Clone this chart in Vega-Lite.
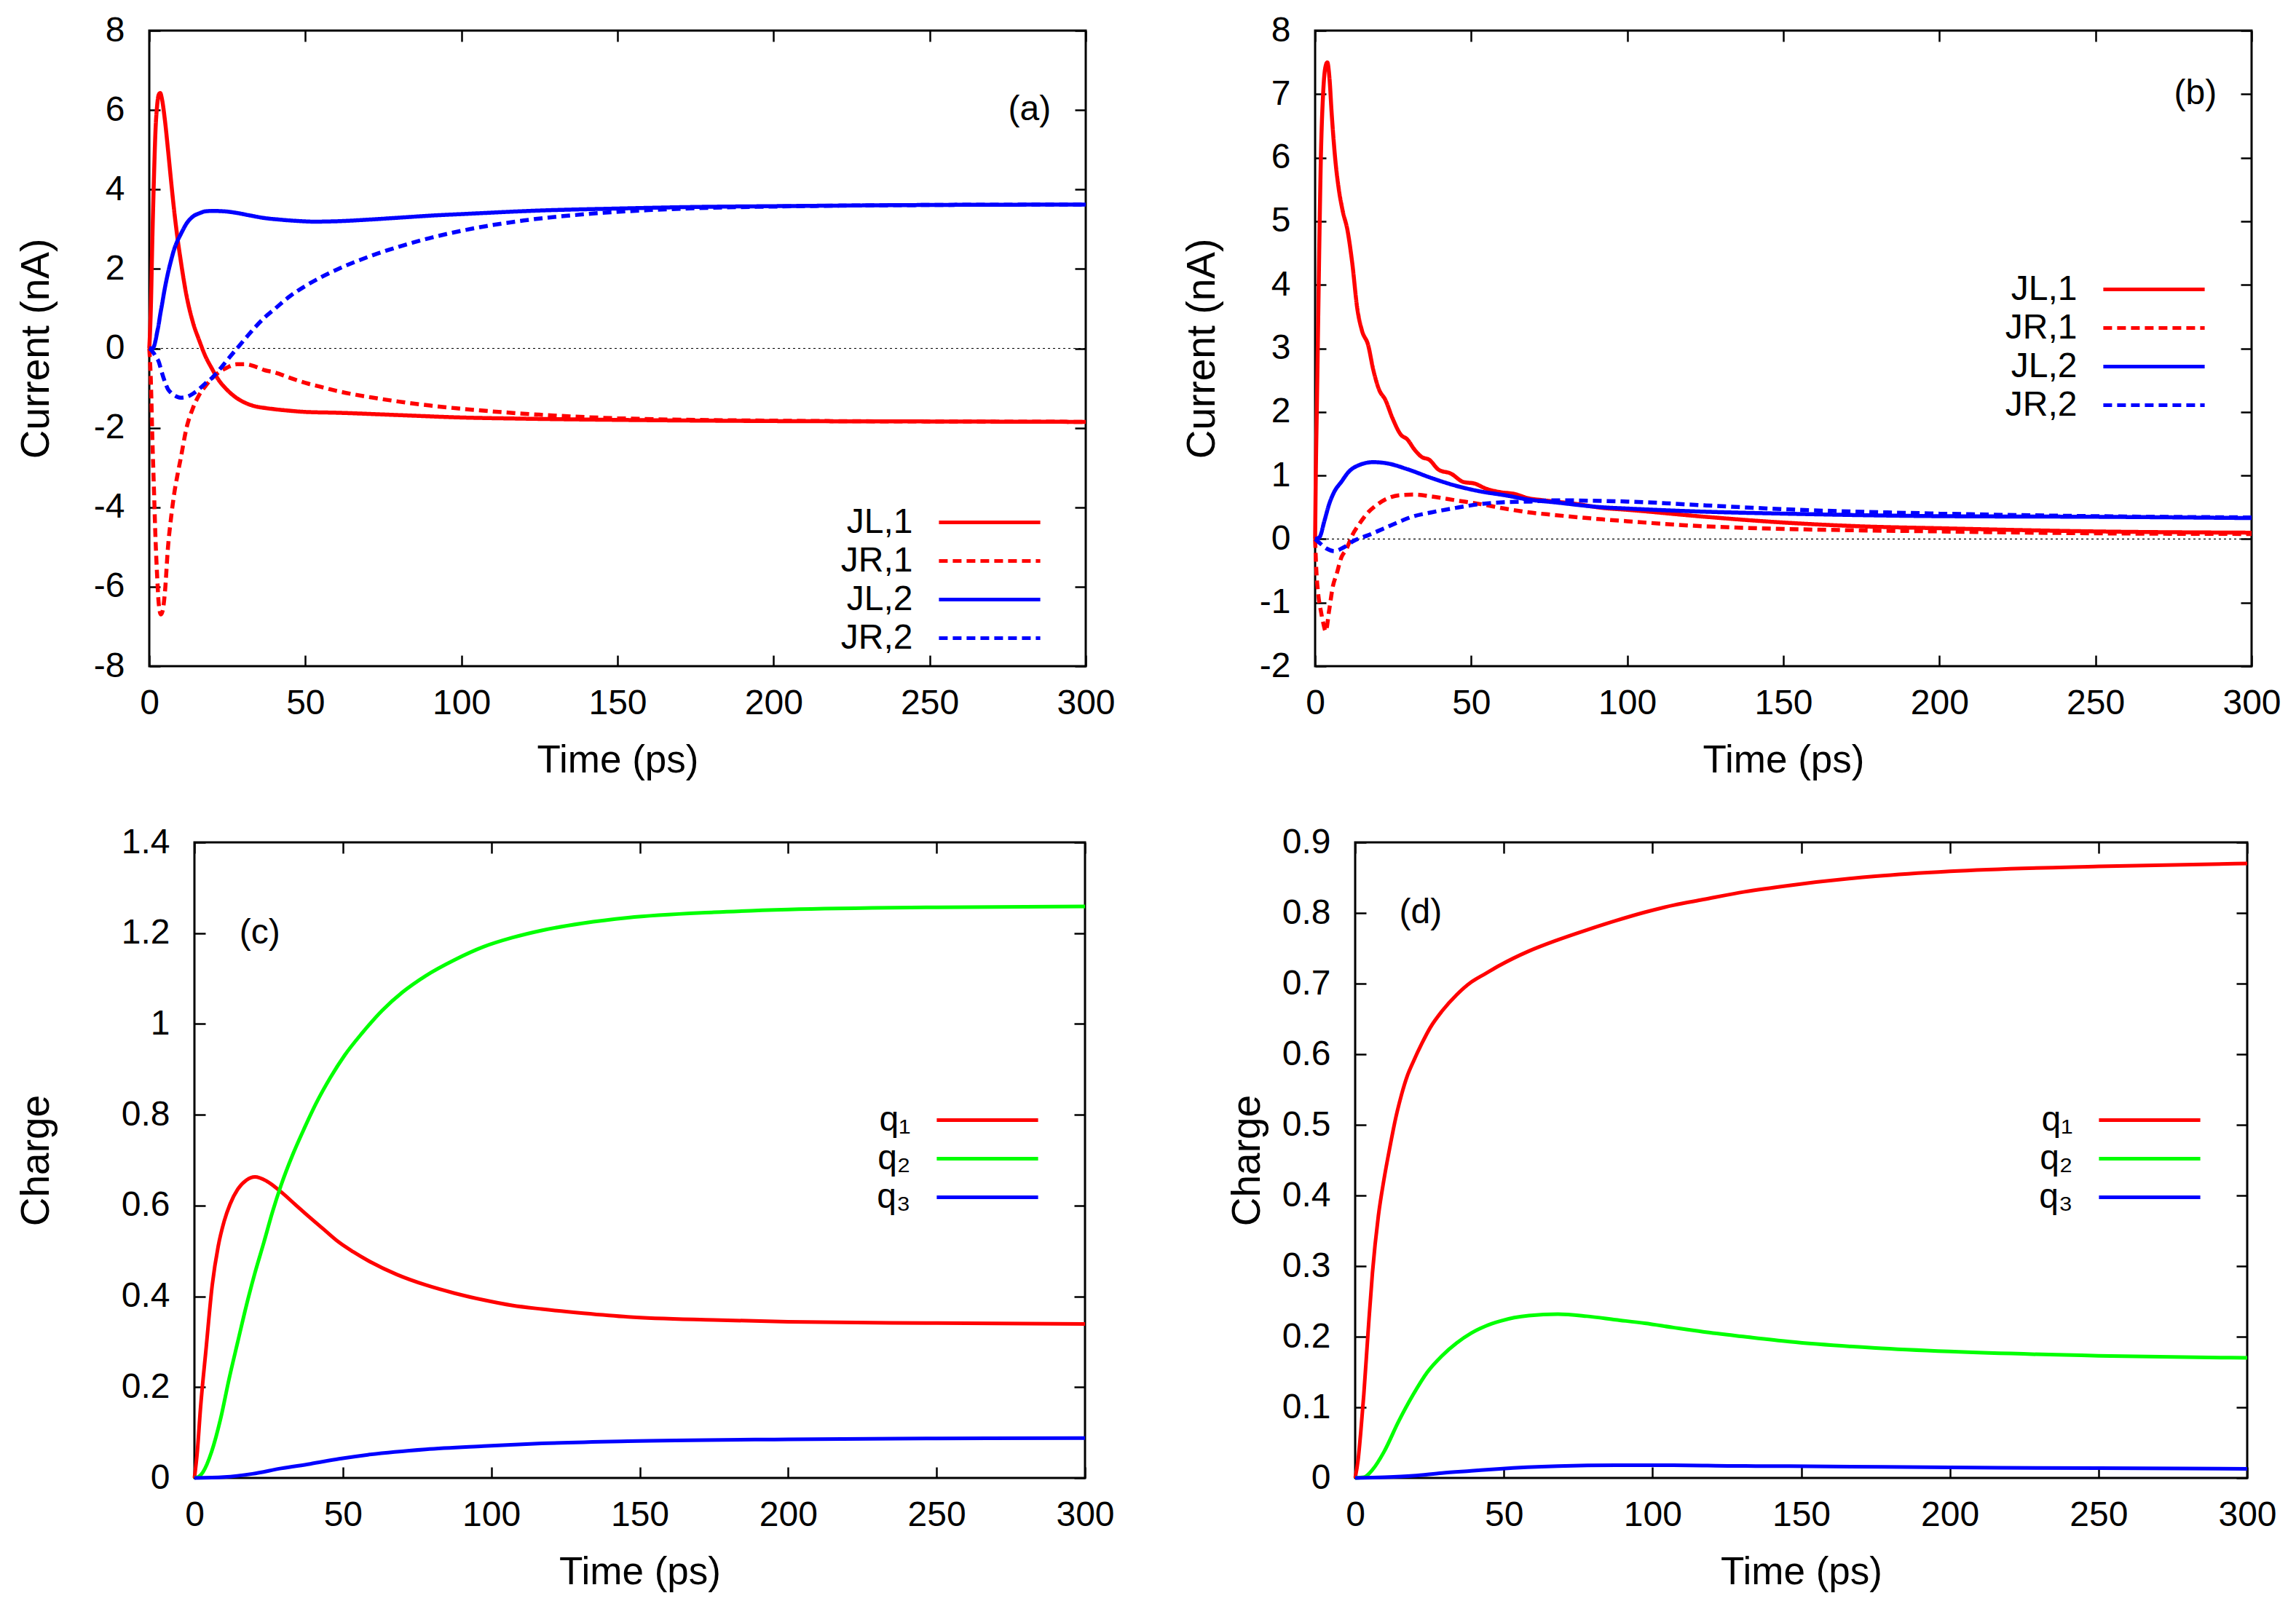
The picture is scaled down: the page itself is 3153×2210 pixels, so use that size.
{
  "$schema": "https://vega.github.io/schema/vega-lite/v6.json",
  "background": "white",
  "padding": {"left": 19, "top": 16, "right": 0, "bottom": 0},
  "config": {
    "font": "Liberation Sans",
    "view": {"stroke": "black", "strokeWidth": 3},
    "axis": {
      "labelFont": "Liberation Sans", "labelFontSize": 48, "labelColor": "black",
      "titleFont": "Liberation Sans", "titleFontSize": 53, "titleFontWeight": "normal", "titleColor": "black",
      "domain": false, "grid": false, "tickColor": "black", "tickWidth": 2.5, "tickSize": -15,
      "labelExpr": "toString(datum.value)", "labelFlush": false, "labelOverlap": false
    },
    "axisBottom": {"labelPadding": 42, "titlePadding": 28},
    "axisLeft": {"labelPadding": 49, "titlePadding": 50, "titleFontSize": 55},
    "axisTop": {"labels": false},
    "axisRight": {"labels": false},
    "legend": {
      "orient": "none", "labelFont": "Liberation Sans", "labelFontSize": 48, "labelColor": "black",
      "symbolType": "M-2.9,0H2.9", "symbolSize": 2304, "symbolStrokeWidth": 5, "symbolOffset": 43.5,
      "labelAlign": "right", "labelOffset": -132, "rowPadding": 2, "padding": 0, "labelLimit": 400
    }
  },
  "datasets": {
    "a": [
      {"t":0,"v":0,"s":"JL,1"},{"t":0.5,"v":1.0,"s":"JL,1"},{"t":1,"v":2.8,"s":"JL,1"},{"t":1.5,"v":4.3,"s":"JL,1"},{"t":2,"v":5.5,"s":"JL,1"},{"t":2.5,"v":6.1,"s":"JL,1"},{"t":3,"v":6.38,"s":"JL,1"},{"t":3.5,"v":6.43,"s":"JL,1"},{"t":4,"v":6.3,"s":"JL,1"},{"t":5,"v":5.75,"s":"JL,1"},{"t":6,"v":5.0,"s":"JL,1"},{"t":7,"v":4.2,"s":"JL,1"},{"t":8,"v":3.45,"s":"JL,1"},{"t":9,"v":2.8,"s":"JL,1"},{"t":10,"v":2.25,"s":"JL,1"},{"t":12,"v":1.3,"s":"JL,1"},{"t":14,"v":0.65,"s":"JL,1"},{"t":16,"v":0.2,"s":"JL,1"},{"t":18,"v":-0.2,"s":"JL,1"},{"t":20,"v":-0.5,"s":"JL,1"},{"t":22,"v":-0.77,"s":"JL,1"},{"t":25,"v":-1.05,"s":"JL,1"},{"t":28,"v":-1.25,"s":"JL,1"},{"t":31,"v":-1.38,"s":"JL,1"},{"t":34,"v":-1.46,"s":"JL,1"},{"t":37,"v":-1.5,"s":"JL,1"},{"t":40,"v":-1.53,"s":"JL,1"},{"t":45,"v":-1.57,"s":"JL,1"},{"t":50,"v":-1.6,"s":"JL,1"},{"t":60,"v":-1.62,"s":"JL,1"},{"t":80,"v":-1.68,"s":"JL,1"},{"t":100,"v":-1.74,"s":"JL,1"},{"t":120,"v":-1.77,"s":"JL,1"},{"t":150,"v":-1.8,"s":"JL,1"},{"t":200,"v":-1.83,"s":"JL,1"},{"t":250,"v":-1.84,"s":"JL,1"},{"t":300,"v":-1.85,"s":"JL,1"},
      {"t":0,"v":0,"s":"JR,1"},{"t":0.5,"v":-0.8,"s":"JR,1"},{"t":1,"v":-2.3,"s":"JR,1"},{"t":1.5,"v":-3.55,"s":"JR,1"},{"t":2,"v":-4.8,"s":"JR,1"},{"t":2.5,"v":-5.7,"s":"JR,1"},{"t":3,"v":-6.4,"s":"JR,1"},{"t":3.7,"v":-6.7,"s":"JR,1"},{"t":4.3,"v":-6.6,"s":"JR,1"},{"t":5,"v":-6.15,"s":"JR,1"},{"t":6,"v":-5.0,"s":"JR,1"},{"t":7,"v":-4.25,"s":"JR,1"},{"t":8,"v":-3.65,"s":"JR,1"},{"t":9,"v":-3.2,"s":"JR,1"},{"t":10,"v":-2.8,"s":"JR,1"},{"t":12,"v":-1.98,"s":"JR,1"},{"t":14,"v":-1.5,"s":"JR,1"},{"t":16,"v":-1.17,"s":"JR,1"},{"t":18,"v":-0.95,"s":"JR,1"},{"t":20,"v":-0.76,"s":"JR,1"},{"t":22,"v":-0.62,"s":"JR,1"},{"t":25,"v":-0.48,"s":"JR,1"},{"t":28,"v":-0.4,"s":"JR,1"},{"t":31,"v":-0.4,"s":"JR,1"},{"t":34,"v":-0.46,"s":"JR,1"},{"t":37,"v":-0.55,"s":"JR,1"},{"t":40,"v":-0.6,"s":"JR,1"},{"t":45,"v":-0.74,"s":"JR,1"},{"t":50,"v":-0.87,"s":"JR,1"},{"t":55,"v":-0.97,"s":"JR,1"},{"t":60,"v":-1.07,"s":"JR,1"},{"t":70,"v":-1.22,"s":"JR,1"},{"t":80,"v":-1.34,"s":"JR,1"},{"t":90,"v":-1.44,"s":"JR,1"},{"t":100,"v":-1.52,"s":"JR,1"},{"t":125,"v":-1.67,"s":"JR,1"},{"t":150,"v":-1.76,"s":"JR,1"},{"t":200,"v":-1.82,"s":"JR,1"},{"t":250,"v":-1.84,"s":"JR,1"},{"t":300,"v":-1.85,"s":"JR,1"},
      {"t":0,"v":0,"s":"JL,2"},{"t":1,"v":0.0,"s":"JL,2"},{"t":1.5,"v":0.05,"s":"JL,2"},{"t":2,"v":0.2,"s":"JL,2"},{"t":2.5,"v":0.4,"s":"JL,2"},{"t":3,"v":0.6,"s":"JL,2"},{"t":3.5,"v":0.85,"s":"JL,2"},{"t":4,"v":1.07,"s":"JL,2"},{"t":5,"v":1.52,"s":"JL,2"},{"t":6,"v":1.9,"s":"JL,2"},{"t":7,"v":2.22,"s":"JL,2"},{"t":8,"v":2.5,"s":"JL,2"},{"t":9,"v":2.7,"s":"JL,2"},{"t":10,"v":2.86,"s":"JL,2"},{"t":12,"v":3.15,"s":"JL,2"},{"t":14,"v":3.32,"s":"JL,2"},{"t":16,"v":3.4,"s":"JL,2"},{"t":18,"v":3.45,"s":"JL,2"},{"t":20,"v":3.46,"s":"JL,2"},{"t":24,"v":3.45,"s":"JL,2"},{"t":28,"v":3.41,"s":"JL,2"},{"t":32,"v":3.35,"s":"JL,2"},{"t":37,"v":3.28,"s":"JL,2"},{"t":42,"v":3.24,"s":"JL,2"},{"t":47,"v":3.21,"s":"JL,2"},{"t":53,"v":3.19,"s":"JL,2"},{"t":60,"v":3.2,"s":"JL,2"},{"t":70,"v":3.24,"s":"JL,2"},{"t":80,"v":3.29,"s":"JL,2"},{"t":92,"v":3.35,"s":"JL,2"},{"t":100,"v":3.38,"s":"JL,2"},{"t":125,"v":3.47,"s":"JL,2"},{"t":150,"v":3.52,"s":"JL,2"},{"t":175,"v":3.56,"s":"JL,2"},{"t":200,"v":3.58,"s":"JL,2"},{"t":250,"v":3.61,"s":"JL,2"},{"t":300,"v":3.62,"s":"JL,2"},
      {"t":0,"v":0,"s":"JR,2"},{"t":0.5,"v":-0.03,"s":"JR,2"},{"t":1,"v":-0.08,"s":"JR,2"},{"t":1.5,"v":-0.13,"s":"JR,2"},{"t":2,"v":-0.2,"s":"JR,2"},{"t":2.5,"v":-0.26,"s":"JR,2"},{"t":3,"v":-0.33,"s":"JR,2"},{"t":3.5,"v":-0.46,"s":"JR,2"},{"t":4,"v":-0.6,"s":"JR,2"},{"t":5,"v":-0.84,"s":"JR,2"},{"t":6,"v":-1.03,"s":"JR,2"},{"t":7,"v":-1.12,"s":"JR,2"},{"t":8,"v":-1.18,"s":"JR,2"},{"t":9,"v":-1.22,"s":"JR,2"},{"t":10,"v":-1.24,"s":"JR,2"},{"t":12,"v":-1.22,"s":"JR,2"},{"t":14,"v":-1.14,"s":"JR,2"},{"t":16,"v":-1.02,"s":"JR,2"},{"t":18,"v":-0.88,"s":"JR,2"},{"t":20,"v":-0.75,"s":"JR,2"},{"t":22,"v":-0.58,"s":"JR,2"},{"t":25,"v":-0.29,"s":"JR,2"},{"t":28,"v":-0.01,"s":"JR,2"},{"t":31,"v":0.27,"s":"JR,2"},{"t":34,"v":0.54,"s":"JR,2"},{"t":37,"v":0.78,"s":"JR,2"},{"t":40,"v":0.98,"s":"JR,2"},{"t":45,"v":1.31,"s":"JR,2"},{"t":50,"v":1.57,"s":"JR,2"},{"t":55,"v":1.79,"s":"JR,2"},{"t":60,"v":1.98,"s":"JR,2"},{"t":70,"v":2.3,"s":"JR,2"},{"t":80,"v":2.56,"s":"JR,2"},{"t":90,"v":2.78,"s":"JR,2"},{"t":100,"v":2.96,"s":"JR,2"},{"t":120,"v":3.22,"s":"JR,2"},{"t":140,"v":3.38,"s":"JR,2"},{"t":160,"v":3.48,"s":"JR,2"},{"t":180,"v":3.54,"s":"JR,2"},{"t":200,"v":3.57,"s":"JR,2"},{"t":250,"v":3.61,"s":"JR,2"},{"t":300,"v":3.62,"s":"JR,2"}
    ],
    "b": [
      {"t":0,"v":0,"s":"JL,1"},{"t":0.2,"v":0.93,"s":"JL,1"},{"t":0.6,"v":2.2,"s":"JL,1"},{"t":1,"v":3.5,"s":"JL,1"},{"t":1.4,"v":4.8,"s":"JL,1"},{"t":1.8,"v":5.9,"s":"JL,1"},{"t":2.6,"v":7.04,"s":"JL,1"},{"t":3.2,"v":7.4,"s":"JL,1"},{"t":3.9,"v":7.5,"s":"JL,1"},{"t":4.6,"v":7.25,"s":"JL,1"},{"t":5.3,"v":6.7,"s":"JL,1"},{"t":6.5,"v":5.95,"s":"JL,1"},{"t":7.6,"v":5.5,"s":"JL,1"},{"t":8.8,"v":5.17,"s":"JL,1"},{"t":10.4,"v":4.85,"s":"JL,1"},{"t":11.9,"v":4.34,"s":"JL,1"},{"t":13.5,"v":3.63,"s":"JL,1"},{"t":15,"v":3.28,"s":"JL,1"},{"t":17,"v":3.05,"s":"JL,1"},{"t":18.6,"v":2.67,"s":"JL,1"},{"t":20.5,"v":2.35,"s":"JL,1"},{"t":22.5,"v":2.19,"s":"JL,1"},{"t":24.8,"v":1.9,"s":"JL,1"},{"t":27.5,"v":1.64,"s":"JL,1"},{"t":29.5,"v":1.57,"s":"JL,1"},{"t":31.8,"v":1.41,"s":"JL,1"},{"t":34.2,"v":1.29,"s":"JL,1"},{"t":36.5,"v":1.25,"s":"JL,1"},{"t":39.6,"v":1.09,"s":"JL,1"},{"t":43.5,"v":1.03,"s":"JL,1"},{"t":47.4,"v":0.9,"s":"JL,1"},{"t":51.3,"v":0.87,"s":"JL,1"},{"t":54.4,"v":0.8,"s":"JL,1"},{"t":59.1,"v":0.74,"s":"JL,1"},{"t":63.8,"v":0.71,"s":"JL,1"},{"t":68.5,"v":0.64,"s":"JL,1"},{"t":73.2,"v":0.61,"s":"JL,1"},{"t":84,"v":0.55,"s":"JL,1"},{"t":92,"v":0.49,"s":"JL,1"},{"t":100,"v":0.46,"s":"JL,1"},{"t":125,"v":0.35,"s":"JL,1"},{"t":150,"v":0.26,"s":"JL,1"},{"t":175,"v":0.2,"s":"JL,1"},{"t":200,"v":0.17,"s":"JL,1"},{"t":250,"v":0.12,"s":"JL,1"},{"t":300,"v":0.1,"s":"JL,1"},
      {"t":0,"v":0,"s":"JR,1"},{"t":0.3,"v":-0.4,"s":"JR,1"},{"t":1,"v":-0.87,"s":"JR,1"},{"t":1.8,"v":-1.12,"s":"JR,1"},{"t":2.6,"v":-1.32,"s":"JR,1"},{"t":3.4,"v":-1.45,"s":"JR,1"},{"t":4.5,"v":-1.12,"s":"JR,1"},{"t":5.7,"v":-0.74,"s":"JR,1"},{"t":6.9,"v":-0.55,"s":"JR,1"},{"t":8.4,"v":-0.29,"s":"JR,1"},{"t":10,"v":-0.16,"s":"JR,1"},{"t":11.9,"v":0.06,"s":"JR,1"},{"t":13.9,"v":0.22,"s":"JR,1"},{"t":17,"v":0.42,"s":"JR,1"},{"t":20.1,"v":0.55,"s":"JR,1"},{"t":23.2,"v":0.64,"s":"JR,1"},{"t":27.1,"v":0.69,"s":"JR,1"},{"t":31.8,"v":0.7,"s":"JR,1"},{"t":37.3,"v":0.67,"s":"JR,1"},{"t":45,"v":0.61,"s":"JR,1"},{"t":52.9,"v":0.55,"s":"JR,1"},{"t":60.7,"v":0.48,"s":"JR,1"},{"t":68.5,"v":0.42,"s":"JR,1"},{"t":76.3,"v":0.38,"s":"JR,1"},{"t":92,"v":0.31,"s":"JR,1"},{"t":100,"v":0.28,"s":"JR,1"},{"t":125,"v":0.2,"s":"JR,1"},{"t":150,"v":0.16,"s":"JR,1"},{"t":200,"v":0.12,"s":"JR,1"},{"t":250,"v":0.09,"s":"JR,1"},{"t":300,"v":0.08,"s":"JR,1"},
      {"t":0,"v":0,"s":"JL,2"},{"t":1.4,"v":0.03,"s":"JL,2"},{"t":3,"v":0.29,"s":"JL,2"},{"t":4.5,"v":0.55,"s":"JL,2"},{"t":6.1,"v":0.74,"s":"JL,2"},{"t":8.4,"v":0.9,"s":"JL,2"},{"t":10.8,"v":1.06,"s":"JL,2"},{"t":13.9,"v":1.16,"s":"JL,2"},{"t":18.6,"v":1.21,"s":"JL,2"},{"t":23.2,"v":1.19,"s":"JL,2"},{"t":29.5,"v":1.1,"s":"JL,2"},{"t":37.3,"v":0.96,"s":"JL,2"},{"t":45,"v":0.84,"s":"JL,2"},{"t":52.9,"v":0.75,"s":"JL,2"},{"t":60.7,"v":0.69,"s":"JL,2"},{"t":68.5,"v":0.62,"s":"JL,2"},{"t":76.3,"v":0.58,"s":"JL,2"},{"t":92,"v":0.5,"s":"JL,2"},{"t":100,"v":0.48,"s":"JL,2"},{"t":125,"v":0.43,"s":"JL,2"},{"t":150,"v":0.4,"s":"JL,2"},{"t":200,"v":0.36,"s":"JL,2"},{"t":250,"v":0.35,"s":"JL,2"},{"t":300,"v":0.33,"s":"JL,2"},
      {"t":0,"v":0,"s":"JR,2"},{"t":1.4,"v":-0.06,"s":"JR,2"},{"t":3.7,"v":-0.15,"s":"JR,2"},{"t":6.1,"v":-0.19,"s":"JR,2"},{"t":9.2,"v":-0.13,"s":"JR,2"},{"t":12.3,"v":-0.03,"s":"JR,2"},{"t":17,"v":0.06,"s":"JR,2"},{"t":21.7,"v":0.16,"s":"JR,2"},{"t":26.4,"v":0.26,"s":"JR,2"},{"t":31,"v":0.35,"s":"JR,2"},{"t":37.3,"v":0.42,"s":"JR,2"},{"t":45,"v":0.49,"s":"JR,2"},{"t":52.9,"v":0.55,"s":"JR,2"},{"t":60.7,"v":0.58,"s":"JR,2"},{"t":68.5,"v":0.59,"s":"JR,2"},{"t":76.3,"v":0.61,"s":"JR,2"},{"t":92,"v":0.6,"s":"JR,2"},{"t":100,"v":0.59,"s":"JR,2"},{"t":125,"v":0.53,"s":"JR,2"},{"t":150,"v":0.47,"s":"JR,2"},{"t":200,"v":0.4,"s":"JR,2"},{"t":250,"v":0.36,"s":"JR,2"},{"t":300,"v":0.34,"s":"JR,2"}
    ],
    "c": [
      {"t":0,"v":0,"s":"q₁"},{"t":1,"v":0.06,"s":"q₁"},{"t":2,"v":0.15,"s":"q₁"},{"t":4,"v":0.29,"s":"q₁"},{"t":6,"v":0.425,"s":"q₁"},{"t":8,"v":0.51,"s":"q₁"},{"t":10,"v":0.565,"s":"q₁"},{"t":12,"v":0.603,"s":"q₁"},{"t":14.6,"v":0.636,"s":"q₁"},{"t":17.5,"v":0.656,"s":"q₁"},{"t":20.4,"v":0.663,"s":"q₁"},{"t":24.3,"v":0.654,"s":"q₁"},{"t":29.2,"v":0.63,"s":"q₁"},{"t":34,"v":0.602,"s":"q₁"},{"t":39,"v":0.573,"s":"q₁"},{"t":44,"v":0.545,"s":"q₁"},{"t":48.7,"v":0.519,"s":"q₁"},{"t":53.5,"v":0.498,"s":"q₁"},{"t":58.4,"v":0.479,"s":"q₁"},{"t":68.2,"v":0.448,"s":"q₁"},{"t":77.9,"v":0.425,"s":"q₁"},{"t":87.6,"v":0.407,"s":"q₁"},{"t":97.4,"v":0.392,"s":"q₁"},{"t":107,"v":0.38,"s":"q₁"},{"t":117,"v":0.372,"s":"q₁"},{"t":131,"v":0.363,"s":"q₁"},{"t":146,"v":0.355,"s":"q₁"},{"t":175,"v":0.348,"s":"q₁"},{"t":200,"v":0.344,"s":"q₁"},{"t":250,"v":0.341,"s":"q₁"},{"t":300,"v":0.339,"s":"q₁"},
      {"t":0,"v":0,"s":"q₂"},{"t":1.5,"v":0.003,"s":"q₂"},{"t":2.9,"v":0.013,"s":"q₂"},{"t":5.8,"v":0.058,"s":"q₂"},{"t":8.8,"v":0.13,"s":"q₂"},{"t":11.7,"v":0.219,"s":"q₂"},{"t":14.6,"v":0.3,"s":"q₂"},{"t":17.5,"v":0.38,"s":"q₂"},{"t":20.4,"v":0.452,"s":"q₂"},{"t":23.4,"v":0.519,"s":"q₂"},{"t":26.3,"v":0.586,"s":"q₂"},{"t":29.2,"v":0.645,"s":"q₂"},{"t":33.1,"v":0.712,"s":"q₂"},{"t":37,"v":0.77,"s":"q₂"},{"t":40.9,"v":0.824,"s":"q₂"},{"t":45.8,"v":0.882,"s":"q₂"},{"t":50.6,"v":0.931,"s":"q₂"},{"t":56.5,"v":0.98,"s":"q₂"},{"t":63.3,"v":1.03,"s":"q₂"},{"t":70.1,"v":1.07,"s":"q₂"},{"t":77.9,"v":1.106,"s":"q₂"},{"t":87.6,"v":1.141,"s":"q₂"},{"t":97.4,"v":1.17,"s":"q₂"},{"t":107,"v":1.19,"s":"q₂"},{"t":117,"v":1.206,"s":"q₂"},{"t":131,"v":1.222,"s":"q₂"},{"t":146,"v":1.234,"s":"q₂"},{"t":175,"v":1.246,"s":"q₂"},{"t":200,"v":1.252,"s":"q₂"},{"t":250,"v":1.257,"s":"q₂"},{"t":300,"v":1.259,"s":"q₂"},
      {"t":0,"v":0,"s":"q₃"},{"t":10,"v":0.002,"s":"q₃"},{"t":19.5,"v":0.009,"s":"q₃"},{"t":29.2,"v":0.021,"s":"q₃"},{"t":39,"v":0.031,"s":"q₃"},{"t":48.7,"v":0.042,"s":"q₃"},{"t":58.4,"v":0.051,"s":"q₃"},{"t":77.9,"v":0.063,"s":"q₃"},{"t":97.4,"v":0.07,"s":"q₃"},{"t":117,"v":0.076,"s":"q₃"},{"t":146,"v":0.081,"s":"q₃"},{"t":200,"v":0.085,"s":"q₃"},{"t":250,"v":0.087,"s":"q₃"},{"t":300,"v":0.088,"s":"q₃"}
    ],
    "d": [
      {"t":0,"v":0,"s":"q₁"},{"t":1,"v":0.026,"s":"q₁"},{"t":1.9,"v":0.066,"s":"q₁"},{"t":2.9,"v":0.118,"s":"q₁"},{"t":4.4,"v":0.21,"s":"q₁"},{"t":5.8,"v":0.29,"s":"q₁"},{"t":7.8,"v":0.371,"s":"q₁"},{"t":9.7,"v":0.423,"s":"q₁"},{"t":11.7,"v":0.469,"s":"q₁"},{"t":13.6,"v":0.509,"s":"q₁"},{"t":15.6,"v":0.543,"s":"q₁"},{"t":17.5,"v":0.569,"s":"q₁"},{"t":19.5,"v":0.589,"s":"q₁"},{"t":22.4,"v":0.615,"s":"q₁"},{"t":25.3,"v":0.638,"s":"q₁"},{"t":29.2,"v":0.661,"s":"q₁"},{"t":34.1,"v":0.684,"s":"q₁"},{"t":39,"v":0.702,"s":"q₁"},{"t":43.8,"v":0.714,"s":"q₁"},{"t":48.7,"v":0.726,"s":"q₁"},{"t":58.4,"v":0.746,"s":"q₁"},{"t":68.2,"v":0.762,"s":"q₁"},{"t":77.9,"v":0.776,"s":"q₁"},{"t":87.6,"v":0.789,"s":"q₁"},{"t":97.4,"v":0.801,"s":"q₁"},{"t":107,"v":0.811,"s":"q₁"},{"t":117,"v":0.819,"s":"q₁"},{"t":131,"v":0.83,"s":"q₁"},{"t":146,"v":0.839,"s":"q₁"},{"t":175,"v":0.852,"s":"q₁"},{"t":200,"v":0.859,"s":"q₁"},{"t":250,"v":0.866,"s":"q₁"},{"t":300,"v":0.87,"s":"q₁"},
      {"t":0,"v":0,"s":"q₂"},{"t":2.9,"v":0.001,"s":"q₂"},{"t":5.8,"v":0.0115,"s":"q₂"},{"t":9.7,"v":0.037,"s":"q₂"},{"t":14.6,"v":0.08,"s":"q₂"},{"t":19.5,"v":0.118,"s":"q₂"},{"t":24.3,"v":0.15,"s":"q₂"},{"t":29.2,"v":0.173,"s":"q₂"},{"t":34.1,"v":0.191,"s":"q₂"},{"t":39,"v":0.205,"s":"q₂"},{"t":43.8,"v":0.215,"s":"q₂"},{"t":48.7,"v":0.222,"s":"q₂"},{"t":53.5,"v":0.227,"s":"q₂"},{"t":58.4,"v":0.23,"s":"q₂"},{"t":68.2,"v":0.232,"s":"q₂"},{"t":77.9,"v":0.229,"s":"q₂"},{"t":87.6,"v":0.224,"s":"q₂"},{"t":97.4,"v":0.219,"s":"q₂"},{"t":107,"v":0.213,"s":"q₂"},{"t":117,"v":0.207,"s":"q₂"},{"t":131,"v":0.2,"s":"q₂"},{"t":146,"v":0.193,"s":"q₂"},{"t":175,"v":0.184,"s":"q₂"},{"t":200,"v":0.179,"s":"q₂"},{"t":250,"v":0.173,"s":"q₂"},{"t":300,"v":0.17,"s":"q₂"},
      {"t":0,"v":0,"s":"q₃"},{"t":10,"v":0.001,"s":"q₃"},{"t":19.5,"v":0.003,"s":"q₃"},{"t":29.2,"v":0.007,"s":"q₃"},{"t":39,"v":0.01,"s":"q₃"},{"t":48.7,"v":0.013,"s":"q₃"},{"t":68.2,"v":0.0167,"s":"q₃"},{"t":87.6,"v":0.018,"s":"q₃"},{"t":107,"v":0.018,"s":"q₃"},{"t":127,"v":0.017,"s":"q₃"},{"t":146,"v":0.0167,"s":"q₃"},{"t":200,"v":0.015,"s":"q₃"},{"t":250,"v":0.0138,"s":"q₃"},{"t":300,"v":0.013,"s":"q₃"}
    ]
  },
  "columns": 4,
  "align": "none",
  "spacing": {"row": 58, "column": 0},
  "resolve": {"scale": {"color": "independent", "strokeDash": "independent", "x": "independent", "y": "independent"}},
  "concat": [
    {"width": 1, "height": 873, "view": {"stroke": null}, "mark": {"type": "point", "opacity": 0}, "encoding": {}},
    {
      "width": 1286, "height": 873,
      "layer": [
        {"data": {"values": [{"y0": 0}]},
         "mark": {"type": "rule", "color": "black", "strokeWidth": 1.2, "strokeDash": [3, 4]},
         "encoding": {"y": {"field": "y0", "type": "quantitative", "axis": null}}},
        {"data": {"name": "a"},
         "mark": {"type": "line", "strokeWidth": 5.5, "interpolate": "monotone"},
         "encoding": {
           "x": {"field": "t", "type": "quantitative", "scale": {"domain": [0, 300], "nice": false}, "axis": {"orient": "bottom", "values": [0, 50, 100, 150, 200, 250, 300], "title": "Time (ps)"}},
           "y": {"field": "v", "type": "quantitative", "scale": {"domain": [-8, 8], "nice": false}, "axis": {"orient": "left", "values": [-8, -6, -4, -2, 0, 2, 4, 6, 8], "title": "Current (nA)"}},
           "color": {"field": "s", "type": "nominal", "scale": {"domain": ["JL,1", "JR,1", "JL,2", "JR,2"], "range": ["#ff0000", "#ff0000", "#0000ff", "#0000ff"]}, "legend": {"title": null, "legendX": 1084, "legendY": 649}},
           "strokeDash": {"field": "s", "type": "nominal", "scale": {"domain": ["JL,1", "JR,1", "JL,2", "JR,2"], "range": [[1, 0], [12, 7], [1, 0], [12, 7]]}, "legend": {"title": null, "legendX": 1084, "legendY": 649}}
         }},
        {"data": {"values": [{"t": 282, "v": 6, "label": "(a)"}]},
         "mark": {"type": "text", "font": "Liberation Sans", "fontSize": 48, "fontWeight": "normal", "color": "black"},
         "encoding": {"x": {"field": "t", "type": "quantitative", "axis": null}, "y": {"field": "v", "type": "quantitative", "axis": null}, "text": {"field": "label"}}},
        {"data": {"name": "a"},
         "mark": {"type": "point", "opacity": 0},
         "encoding": {
           "x": {"field": "t", "type": "quantitative", "axis": {"orient": "top", "title": null, "values": [0, 50, 100, 150, 200, 250, 300]}},
           "y": {"field": "v", "type": "quantitative", "axis": {"orient": "right", "title": null, "values": [-8, -6, -4, -2, 0, 2, 4, 6, 8]}}
         }}
      ],
      "resolve": {"axis": {"x": "independent", "y": "independent"}}
    },
    {"width": 88, "height": 873, "view": {"stroke": null}, "mark": {"type": "point", "opacity": 0}, "encoding": {}},
    {
      "width": 1286, "height": 873,
      "layer": [
        {"data": {"values": [{"y0": 0}]},
         "mark": {"type": "rule", "color": "black", "strokeWidth": 1.2, "strokeDash": [3, 4]},
         "encoding": {"y": {"field": "y0", "type": "quantitative", "axis": null}}},
        {"data": {"name": "b"},
         "mark": {"type": "line", "strokeWidth": 5.5, "interpolate": "monotone"},
         "encoding": {
           "x": {"field": "t", "type": "quantitative", "scale": {"domain": [0, 300], "nice": false}, "axis": {"orient": "bottom", "values": [0, 50, 100, 150, 200, 250, 300], "title": "Time (ps)"}},
           "y": {"field": "v", "type": "quantitative", "scale": {"domain": [-2, 8], "nice": false}, "axis": {"orient": "left", "values": [-2, -1, 0, 1, 2, 3, 4, 5, 6, 7, 8], "title": "Current (nA)"}},
           "color": {"field": "s", "type": "nominal", "scale": {"domain": ["JL,1", "JR,1", "JL,2", "JR,2"], "range": ["#ff0000", "#ff0000", "#0000ff", "#0000ff"]}, "legend": {"title": null, "legendX": 1082, "legendY": 329}},
           "strokeDash": {"field": "s", "type": "nominal", "scale": {"domain": ["JL,1", "JR,1", "JL,2", "JR,2"], "range": [[1, 0], [12, 7], [1, 0], [12, 7]]}, "legend": {"title": null, "legendX": 1082, "legendY": 329}}
         }},
        {"data": {"values": [{"t": 282, "v": 7, "label": "(b)"}]},
         "mark": {"type": "text", "font": "Liberation Sans", "fontSize": 48, "fontWeight": "normal", "color": "black"},
         "encoding": {"x": {"field": "t", "type": "quantitative", "axis": null}, "y": {"field": "v", "type": "quantitative", "axis": null}, "text": {"field": "label"}}},
        {"data": {"name": "b"},
         "mark": {"type": "point", "opacity": 0},
         "encoding": {
           "x": {"field": "t", "type": "quantitative", "axis": {"orient": "top", "title": null, "values": [0, 50, 100, 150, 200, 250, 300]}},
           "y": {"field": "v", "type": "quantitative", "axis": {"orient": "right", "title": null, "values": [-2, -1, 0, 1, 2, 3, 4, 5, 6, 7, 8]}}
         }}
      ],
      "resolve": {"axis": {"x": "independent", "y": "independent"}}
    },
    {"width": 1, "height": 873, "view": {"stroke": null}, "mark": {"type": "point", "opacity": 0}, "encoding": {}},
    {
      "width": 1223, "height": 873,
      "layer": [
        {"data": {"name": "c"},
         "mark": {"type": "line", "strokeWidth": 5, "interpolate": "monotone"},
         "encoding": {
           "x": {"field": "t", "type": "quantitative", "scale": {"domain": [0, 300], "nice": false}, "axis": {"orient": "bottom", "values": [0, 50, 100, 150, 200, 250, 300], "title": "Time (ps)"}},
           "y": {"field": "v", "type": "quantitative", "scale": {"domain": [0, 1.4], "nice": false}, "axis": {"orient": "left", "values": [0, 0.2, 0.4, 0.6, 0.8, 1, 1.2, 1.4], "title": "Charge", "titlePadding": 88}},
           "color": {"field": "s", "type": "nominal", "scale": {"domain": ["q₁", "q₂", "q₃"], "range": ["#ff0000", "#00ff00", "#0000ff"]}, "legend": {"title": null, "legendX": 1019, "legendY": 355}}
         }},
        {"data": {"values": [{"t": 22, "v": 1.2, "label": "(c)"}]},
         "mark": {"type": "text", "font": "Liberation Sans", "fontSize": 48, "fontWeight": "normal", "color": "black"},
         "encoding": {"x": {"field": "t", "type": "quantitative", "axis": null}, "y": {"field": "v", "type": "quantitative", "axis": null}, "text": {"field": "label"}}},
        {"data": {"name": "c"},
         "mark": {"type": "point", "opacity": 0},
         "encoding": {
           "x": {"field": "t", "type": "quantitative", "axis": {"orient": "top", "title": null, "values": [0, 50, 100, 150, 200, 250, 300]}},
           "y": {"field": "v", "type": "quantitative", "axis": {"orient": "right", "title": null, "values": [0, 0.2, 0.4, 0.6, 0.8, 1, 1.2, 1.4]}}
         }}
      ],
      "resolve": {"axis": {"x": "independent", "y": "independent"}}
    },
    {"width": 20, "height": 873, "view": {"stroke": null}, "mark": {"type": "point", "opacity": 0}, "encoding": {}},
    {
      "width": 1225, "height": 873,
      "layer": [
        {"data": {"name": "d"},
         "mark": {"type": "line", "strokeWidth": 5, "interpolate": "monotone"},
         "encoding": {
           "x": {"field": "t", "type": "quantitative", "scale": {"domain": [0, 300], "nice": false}, "axis": {"orient": "bottom", "values": [0, 50, 100, 150, 200, 250, 300], "title": "Time (ps)"}},
           "y": {"field": "v", "type": "quantitative", "scale": {"domain": [0, 0.9], "nice": false}, "axis": {"orient": "left", "values": [0, 0.1, 0.2, 0.3, 0.4, 0.5, 0.6, 0.7, 0.8, 0.9], "title": "Charge", "titlePadding": 19}},
           "color": {"field": "s", "type": "nominal", "scale": {"domain": ["q₁", "q₂", "q₃"], "range": ["#ff0000", "#00ff00", "#0000ff"]}, "legend": {"title": null, "legendX": 1021, "legendY": 355}}
         }},
        {"data": {"values": [{"t": 22, "v": 0.8, "label": "(d)"}]},
         "mark": {"type": "text", "font": "Liberation Sans", "fontSize": 48, "fontWeight": "normal", "color": "black"},
         "encoding": {"x": {"field": "t", "type": "quantitative", "axis": null}, "y": {"field": "v", "type": "quantitative", "axis": null}, "text": {"field": "label"}}},
        {"data": {"name": "d"},
         "mark": {"type": "point", "opacity": 0},
         "encoding": {
           "x": {"field": "t", "type": "quantitative", "axis": {"orient": "top", "title": null, "values": [0, 50, 100, 150, 200, 250, 300]}},
           "y": {"field": "v", "type": "quantitative", "axis": {"orient": "right", "title": null, "values": [0, 0.1, 0.2, 0.3, 0.4, 0.5, 0.6, 0.7, 0.8, 0.9]}}
         }}
      ],
      "resolve": {"axis": {"x": "independent", "y": "independent"}}
    }
  ]
}
